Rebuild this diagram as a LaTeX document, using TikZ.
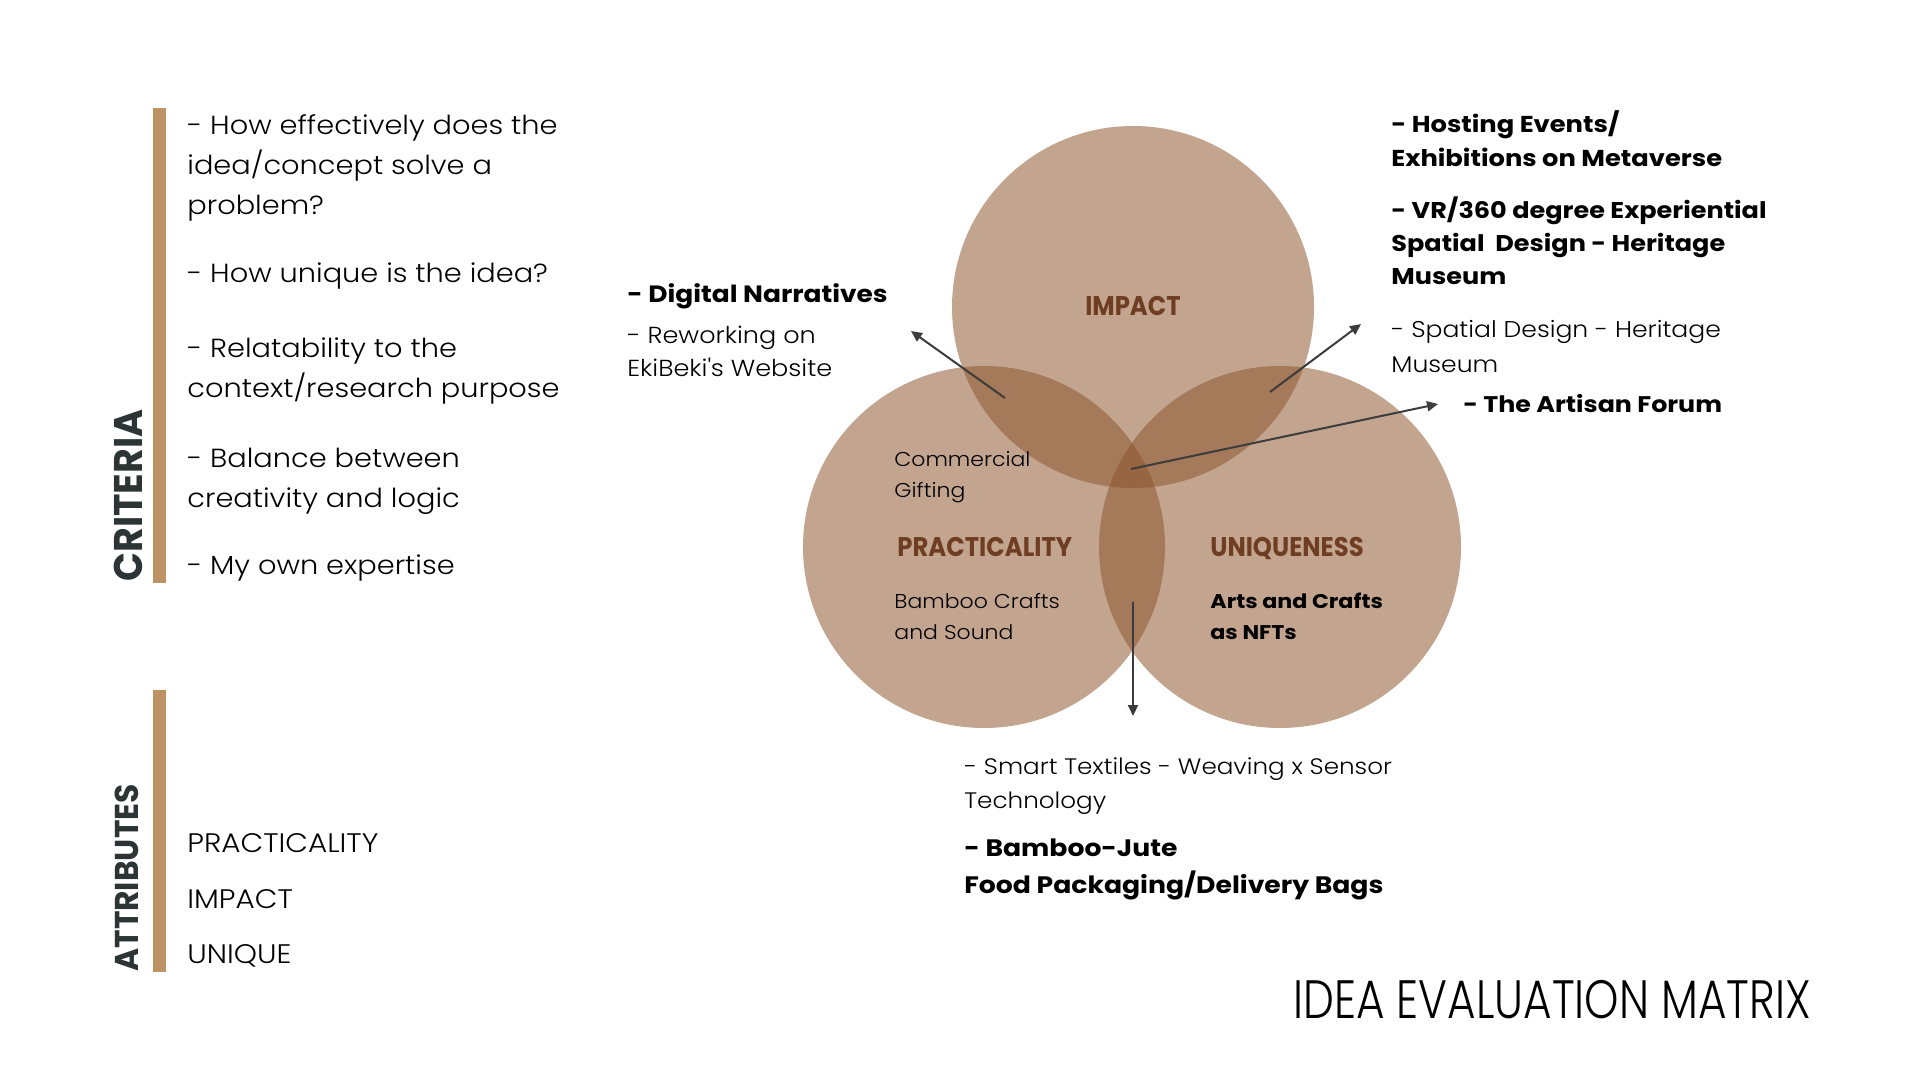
\documentclass[tikz,border=0pt]{standalone}
\usepackage{fontspec}
\setmainfont{Poppins Light}[FakeStretch=1.1, BoldFont=Poppins Bold, BoldFeatures={FakeStretch=1.12}]
\newfontfamily\heavyfont{Poppins Bold}[FakeStretch=0.9]
\newfontfamily\sidefont{Poppins Bold}[FakeStretch=0.95]
\newfontfamily\titlefont{Poppins Light}[FakeStretch=0.81]
\usetikzlibrary{positioning, arrows.meta}
\definecolor{tan}{HTML}{BD9366}
\definecolor{venn}{RGB}{139,84,43}
\definecolor{setlabel}{HTML}{6E3D22}
\definecolor{slate}{HTML}{2D3436}
\definecolor{arrowgray}{HTML}{3C3C3C}
\tikzset{
	bar/.style={fill=tan, draw=none},
	sidetitle/.style={rotate=90, anchor=west, inner sep=0pt, text=slate},
	set/.style={circle, fill=venn, fill opacity=0.53, minimum size=181pt, inner sep=0pt},
	setname/.style={font=\heavyfont\fontsize{13.5}{15}\selectfont, text=setlabel, inner sep=0pt},
	txt/.style={align=left, anchor=base west, inner sep=0pt},
	crit/.style={txt, font=\fontsize{13.1}{20}\selectfont},
	small/.style={txt, font=\fontsize{11.4}{17.5}\selectfont},
	heavy/.style={txt, font=\bfseries\fontsize{11.5}{17}\selectfont},
	arr/.style={->, draw=arrowgray, fill=arrowgray, line width=1pt}
}
\begin{document}
\begin{tikzpicture}[x=0.5pt, y=0.5pt, >={Triangle[length=5.5pt, width=5pt]}]
	\useasboundingbox (0,0) rectangle (1920,-1080);
	% left column
	\fill[bar] (153,-108) rectangle (166,-583);
	\fill[bar] (153,-690) rectangle (166,-972);
	\node[sidetitle, font=\sidefont\fontsize{20}{20}\selectfont] (criteria) at (128,-582) {CRITERIA};
	\node[sidetitle, font=\sidefont\fontsize{16.5}{17}\selectfont] (attributes) at (127,-972) {ATTRIBUTES};
	\node[crit] (c1) at (187,-215) {- How effectively does the\\idea/concept solve a\\problem?};
	\node[crit] (c2) at (187,-283) {- How unique is the idea?};
	\node[crit] (c3) at (187,-397) {- Relatability to the\\context/research purpose};
	\node[crit] (c4) at (187,-507) {- Balance between\\creativity and logic};
	\node[crit] (c5) at (187,-574) {- My own expertise};
	\node[crit, font=\fontsize{13.4}{13}\selectfont] (a1) at (187,-852) {PRACTICALITY};
	\node[crit, font=\fontsize{13.4}{13}\selectfont] (a2) at (187,-908) {IMPACT};
	\node[crit, font=\fontsize{13.4}{13}\selectfont] (a3) at (187,-963) {UNIQUE};
	% venn
	\node[set] (impact) at (1133,-307) {};
	\node[set] (practical) at (984,-547) {};
	\node[set] (unique) at (1280,-547) {};
	\node[setname] (impactname) at (1133,-306) {IMPACT};
	\node[setname, anchor=base west] (practicalname) at (897,-556) {PRACTICALITY};
	\node[setname, anchor=base west] (uniquename) at (1210,-556) {UNIQUENESS};
	\node[small, font=\fontsize{10}{15.5}\selectfont] (gifting) at (894,-497) {Commercial\\Gifting};
	\node[small, font=\fontsize{10}{15.5}\selectfont] (bamboo) at (894,-639) {Bamboo Crafts\\and Sound};
	\node[heavy, font=\bfseries\fontsize{9.9}{15.5}\selectfont] (nft) at (1210,-639) {Arts and Crafts\\as NFTs};
	% ideas
	\node[heavy, font=\bfseries\fontsize{11.8}{17}\selectfont] (digital) at (627,-303) {- Digital Narratives};
	\node[small, font=\fontsize{11.6}{16.5}\selectfont] (ekibeki) at (627,-376) {- Reworking on\\EkiBeki\textquotesingle s Website};
	\node[heavy] (hosting) at (1391,-167) {- Hosting Events/\\Exhibitions on Metaverse};
	\node[heavy, font=\bfseries\fontsize{11.4}{16.7}\selectfont] (vr) at (1391,-285) {- VR/360 degree Experiential\\Spatial\ \ Design - Heritage\\Museum};
	\node[small] (spatial) at (1391,-372) {- Spatial Design - Heritage\\Museum};
	\node[heavy, font=\bfseries\fontsize{11.3}{17}\selectfont] (artisan) at (1463,-412) {- The Artisan Forum};
	\node[small, font=\fontsize{11.2}{17}\selectfont] (textiles) at (964,-808) {- Smart Textiles - Weaving x Sensor\\Technology};
	\node[heavy, font=\bfseries\fontsize{11.9}{18.5}\selectfont] (jute) at (964,-893) {- Bamboo-Jute\\Food Packaging/Delivery Bags};
	\node[anchor=base east, inner sep=0pt, font=\titlefont\fontsize{27}{27}\selectfont] (title) at (1811,-1018) {IDEA EVALUATION MATRIX};
	% arrows
	\coordinate (pi) at (1005,-398);
	\coordinate (pi end) at (911,-331);
	\coordinate (iu) at (1270,-392);
	\coordinate (iu end) at (1361,-324);
	\coordinate (all) at (1131,-469);
	\coordinate (all end) at (1438,-404);
	\coordinate (pu) at (1133,-602);
	\coordinate (pu end) at (1133,-716);
	\draw[arr] (pi) -- (pi end);
	\draw[arr] (iu) -- (iu end);
	\draw[arr] (all) -- (all end);
	\draw[arr] (pu) -- (pu end);
\end{tikzpicture}
\end{document}
